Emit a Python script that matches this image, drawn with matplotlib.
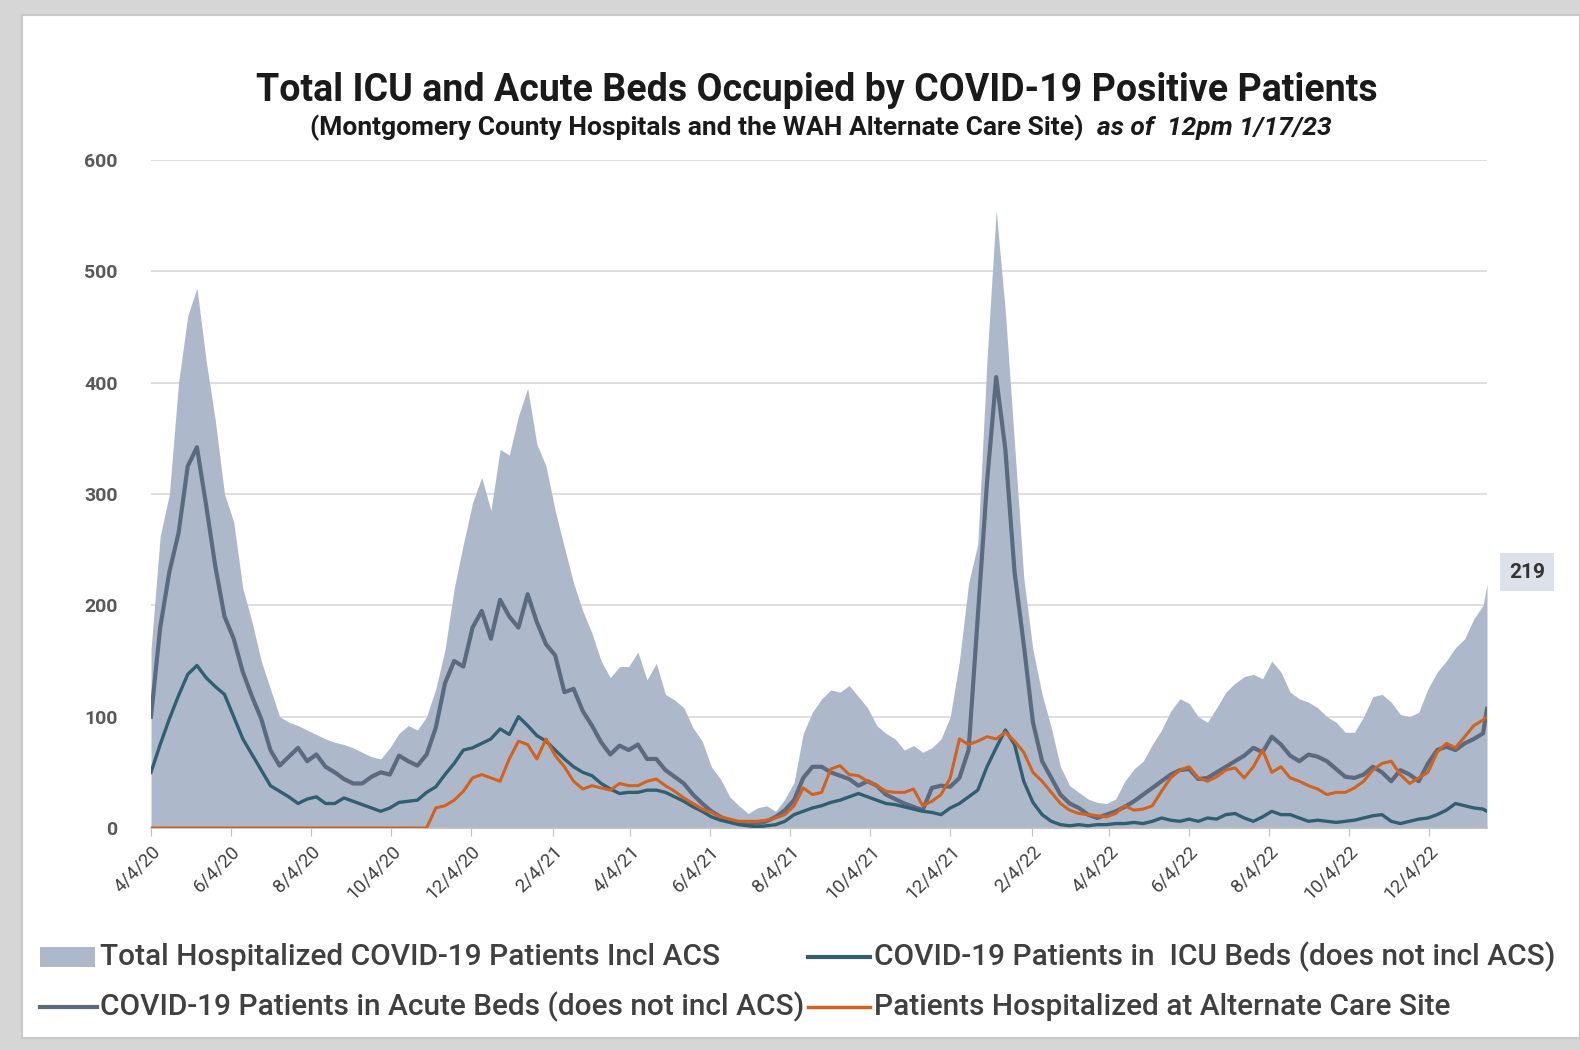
import matplotlib
matplotlib.use('Agg')
import matplotlib.pyplot as plt
from matplotlib.patches import Rectangle
from matplotlib.lines import Line2D
import pandas as pd

plt.rcParams['font.family'] = ['Roboto', 'DejaVu Sans']

# weekly readings from 4/4/20, plus the last day 1/17/23
dates = list(pd.date_range('2020-04-04', periods=146, freq='7D')) + [pd.Timestamp('2023-01-17')]

total = [160, 262, 300, 400, 460, 485, 420, 366, 300, 275, 215, 185, 150, 125, 100, 95,
         92, 88, 84, 80, 77, 75, 72, 68, 64, 62, 72, 85, 92, 88, 100, 125,
         160, 215, 255, 292, 315, 285, 340, 335, 370, 395, 345, 325, 285, 252, 220, 195,
         175, 150, 135, 145, 145, 158, 133, 148, 120, 115, 108, 90, 78, 55, 44, 28,
         20, 13, 18, 20, 15, 26, 41, 85, 104, 116, 124, 122, 128, 118, 108, 92,
         85, 80, 70, 74, 68, 72, 80, 100, 150, 220, 255, 420, 555, 464, 345, 225,
         160, 120, 90, 55, 38, 32, 26, 23, 22, 26, 42, 53, 60, 75, 88, 105,
         116, 112, 100, 95, 108, 122, 130, 136, 138, 134, 150, 140, 122, 116, 113, 108,
         100, 95, 86, 86, 100, 118, 120, 113, 102, 100, 104, 125, 140, 150, 162, 170,
         188, 200, 219]

icu = [50, 75, 98, 119, 138, 146, 135, 127, 120, 100, 80, 66, 52, 38, 33, 28,
       22, 26, 28, 22, 22, 27, 24, 21, 18, 15, 18, 23, 24, 25, 32, 37,
       48, 58, 70, 72, 76, 80, 89, 84, 100, 92, 83, 78, 70, 62, 55, 50,
       47, 40, 35, 31, 32, 32, 34, 34, 32, 28, 24, 19, 15, 10, 7, 5,
       3, 2, 1, 2, 3, 6, 12, 15, 18, 20, 23, 25, 28, 31, 28, 25,
       22, 21, 19, 17, 15, 14, 12, 18, 22, 28, 34, 55, 72, 88, 75, 42,
       23, 12, 6, 3, 2, 3, 2, 3, 3, 4, 4, 5, 4, 6, 9, 7,
       6, 8, 6, 9, 8, 12, 13, 9, 6, 10, 15, 12, 12, 9, 6, 7,
       6, 5, 6, 7, 9, 11, 12, 6, 4, 6, 8, 9, 12, 16, 22, 20,
       18, 17, 15]

acute = [100, 180, 230, 265, 325, 342, 290, 235, 190, 170, 140, 118, 98, 70, 56, 64,
         72, 60, 66, 55, 50, 44, 40, 40, 46, 50, 48, 65, 60, 56, 66, 90,
         130, 150, 145, 180, 195, 170, 205, 190, 180, 210, 185, 165, 155, 122, 125, 105,
         92, 77, 66, 74, 70, 75, 62, 62, 52, 46, 40, 30, 22, 15, 10, 6,
         4, 3, 4, 6, 10, 16, 25, 45, 55, 55, 50, 47, 44, 38, 42, 38,
         30, 26, 22, 19, 16, 36, 38, 37, 45, 70, 190, 310, 405, 340, 230, 165,
         95, 60, 45, 30, 22, 18, 12, 9, 12, 15, 19, 24, 30, 36, 42, 48,
         52, 53, 44, 45, 50, 55, 60, 65, 72, 68, 82, 75, 65, 60, 66, 64,
         60, 53, 46, 45, 48, 55, 50, 42, 52, 48, 42, 58, 70, 73, 70, 76,
         80, 85, 107]

acs = [0] * 31 + [
       18, 20, 25, 33, 45, 48, 45, 42, 62, 78, 75, 62, 80, 65, 55, 42,
       35, 38, 36, 34, 40, 38, 38, 42, 44, 38, 33, 27, 22, 17, 14, 10,
       8, 6, 6, 6, 7, 9, 12, 20, 36, 30, 32, 53, 56, 48, 47, 42,
       38, 33, 32, 32, 35, 20, 24, 30, 45, 80, 75, 78, 82, 80, 86, 78,
       68, 50, 42, 32, 22, 16, 13, 12, 11, 10, 13, 20, 16, 17, 20, 33,
       45, 52, 55, 45, 42, 46, 52, 54, 45, 55, 70, 50, 55, 45, 42, 38,
       35, 30, 32, 32, 36, 42, 52, 58, 60, 48, 40, 45, 50, 68, 76, 72,
       82, 92, 97, 100]

tick_dates = pd.date_range('2020-04-01', '2022-12-01', freq='2MS') + pd.Timedelta(days=3)

fill_col = '#adb9ca'
icu_col = '#2f5f70'
acute_col = '#5c6a80'
acs_col = '#d2621e'

fig = plt.figure(figsize=(15.8, 10.5), dpi=100)
fig.patch.set_facecolor('#d6d6d6')
fig.add_artist(Rectangle((22/1580, 1-1038/1050), 1-22/1580, (1038-15)/1050,
                         transform=fig.transFigure, facecolor='white',
                         edgecolor='#c8c8c8', lw=1.5, zorder=0))

ax = fig.add_axes([151/1580, 1-828/1050, (1487-151)/1580, (828-160)/1050])
ax.set_facecolor('none')

ax.fill_between(dates, total, 0, color=fill_col, lw=0, zorder=2)
ax.plot(dates, acute, color=acute_col, lw=3, zorder=3)
ax.plot(dates, icu, color=icu_col, lw=2.4, zorder=4)
ax.plot(dates, acs, color=acs_col, lw=2.2, zorder=5)

ax.set_ylim(0, 600)
ax.set_yticks(range(0, 601, 100))
ax.set_xlim(dates[0], dates[-1])
ax.set_xticks(tick_dates)
ax.set_xticklabels([f'{d.month}/{d.day}/{d.year % 100}' for d in tick_dates],
                   rotation=45, ha='right', rotation_mode='anchor',
                   fontsize=13.5, color='#404040')
ax.grid(axis='y', color='#d9d9d9', lw=1.2, zorder=0)
ax.set_axisbelow(True)
for s in ['top', 'right', 'left']:
    ax.spines[s].set_visible(False)
ax.spines['bottom'].set_color('#bfbfbf')
ax.spines['bottom'].set_linewidth(1.2)
ax.tick_params(axis='y', length=0, pad=24, labelsize=14, labelcolor='#595959')
ax.tick_params(axis='x', length=6, color='#bfbfbf', pad=4)
for t in ax.get_yticklabels():
    t.set_fontweight('bold')

ax.annotate(str(total[-1]), xy=(dates[-1], total[-1]), xytext=(40, 12),
            textcoords='offset pixels', ha='center', va='center',
            fontsize=15, fontweight='bold', color='#333333',
            bbox=dict(boxstyle='square,pad=0.45', fc='#dde2ea', ec='none'),
            annotation_clip=False)

fig.text(0.517, 0.914, 'Total ICU and Acute Beds Occupied by COVID-19 Positive Patients',
         ha='center', va='center', fontsize=27, fontweight='bold', color='#1a1a1a')
fig.text(1090/1580, 0.878, '(Montgomery County Hospitals and the WAH Alternate Care Site) ',
         ha='right', va='center', fontsize=19, fontweight='bold', color='#1a1a1a')
fig.text(1097/1580, 0.878, 'as of  12pm 1/17/23', ha='left', va='center', fontsize=19,
         fontweight='bold', fontstyle='italic', color='#1a1a1a')

# legend drawn by hand
r1 = 1 - 957/1050
r2 = 1 - 1007/1050
fig.add_artist(Rectangle((40/1580, r1 - 10/1050), 55/1580, 20/1050,
                         transform=fig.transFigure, facecolor=fill_col, lw=0))
fig.add_artist(Line2D([808/1580, 870/1580], [r1, r1], transform=fig.transFigure,
                      color=icu_col, lw=3))
fig.add_artist(Line2D([40/1580, 97/1580], [r2, r2], transform=fig.transFigure,
                      color=acute_col, lw=3))
fig.add_artist(Line2D([808/1580, 870/1580], [r2, r2], transform=fig.transFigure,
                      color=acs_col, lw=2.5))
leg_kw = dict(va='center', ha='left', fontsize=21.5, fontweight='medium', color='#404040')
fig.text(100/1580, r1, 'Total Hospitalized COVID-19 Patients Incl ACS', **leg_kw)
fig.text(874/1580, r1, 'COVID-19 Patients in  ICU Beds (does not incl ACS)', **leg_kw)
fig.text(100/1580, r2, 'COVID-19 Patients in Acute Beds (does not incl ACS)', **leg_kw)
fig.text(874/1580, r2, 'Patients Hospitalized at Alternate Care Site', **leg_kw)

fig.savefig('out.png', dpi=100, facecolor=fig.get_facecolor())
